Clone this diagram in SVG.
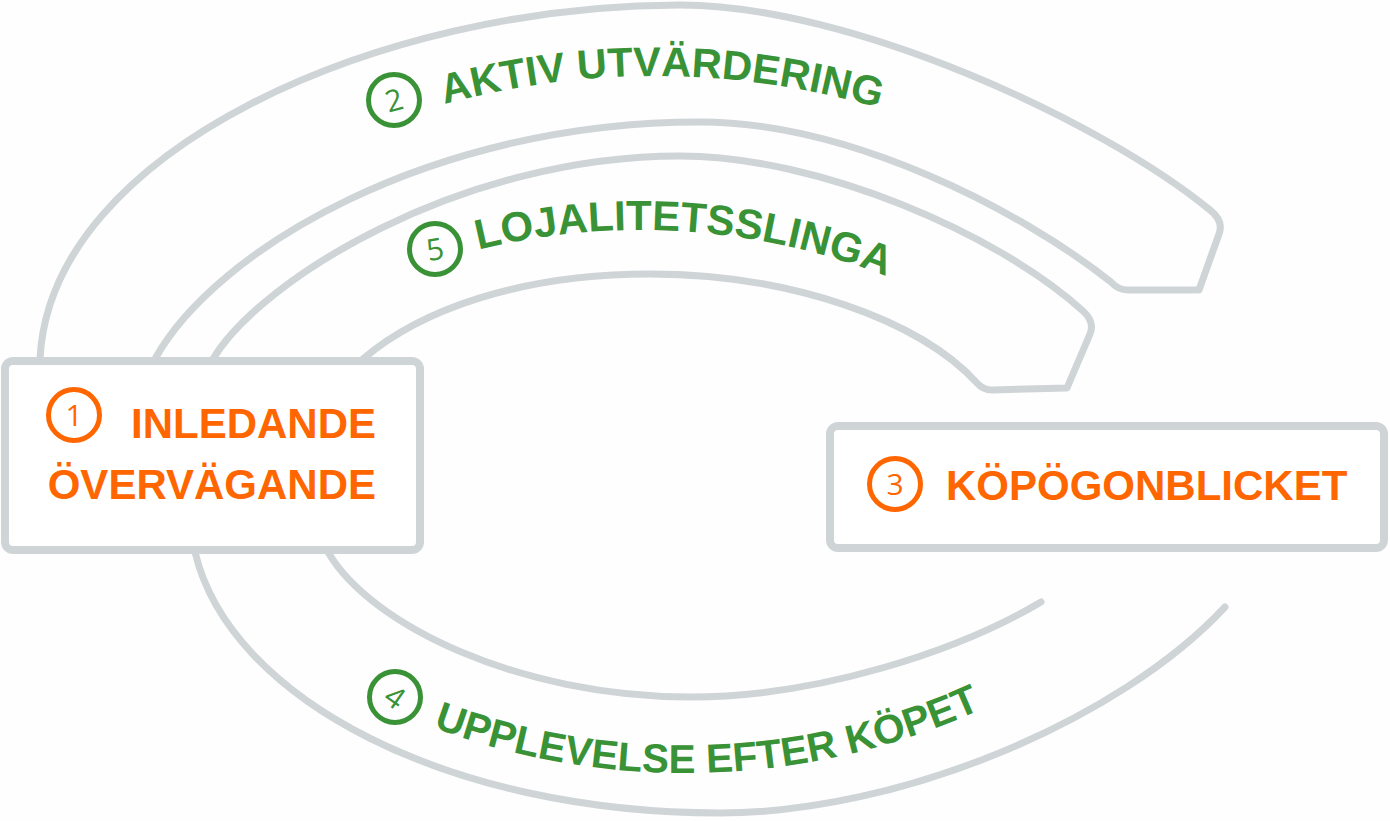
<svg xmlns="http://www.w3.org/2000/svg" width="1390" height="821" viewBox="0 0 1390 821">
<defs>
<style>
.arc{fill:none;stroke:#cfd4d7;stroke-width:7;stroke-linejoin:round;stroke-linecap:round}
.box{fill:#ffffff;stroke:#cfd4d7;stroke-width:8}
.ring-o{fill:none;stroke:#ff6600;stroke-width:5}
.ring-g{fill:none;stroke:#3a9236;stroke-width:5}
.lbl{font-family:"Liberation Sans",Arial,sans-serif;font-weight:700;font-size:42px}
.org{fill:#ff6600}
.grn{fill:#3a9236}
.num{font-family:"Open Sans","Liberation Sans",sans-serif;font-weight:400;font-size:30px;text-anchor:middle}
</style>
<path id="pA" d="M 255,183.2 A 800 800 0 0 1 1055,183.2"/>
<path id="pB" d="M 240,360.1 A 680 680 0 0 1 1040,360.1"/>
<path id="pC" d="M 285,651.7 A 720 720 0 0 0 1085,651.7"/>
</defs>
<rect x="0" y="0" width="1390" height="821" fill="#fefefe"/>
<g id="connectors">
<path id="band-aktiv" class="arc" d="M 40,359 C 50,150 380,5 680,5 C 850,5 1100,120 1210,210 Q 1224,221 1219,234 L 1199,290 L 1128,290 Q 1118,290 1111,282 C 1020,210 850,122 700,122 C 430,122 215,250 155,359"/>
<path id="band-lojal" class="arc" d="M 213,359 C 260,280 460,156 680,156 C 820,156 1000,235 1083,311 Q 1095,322 1090,334 L 1067,388 L 992,390 Q 983,390 977,383 C 920,320 790,274 650,274 C 520,274 420,310 363,359"/>
<path id="arc-efter-outer" class="arc" d="M 195,552 C 230,700 450,813 720,813 C 900,813 1120,720 1225,607"/>
<path id="arc-efter-inner" class="arc" d="M 328,552 C 370,625 520,697 690,697 C 820,697 960,650 1041,602"/>
</g>
<g id="node-1">
<rect class="box" x="5" y="361" width="415" height="189" rx="8"/>
<circle class="ring-o" cx="74" cy="415" r="25.5"/>
<text class="num org" x="74" y="426">1</text>
<text class="lbl org" x="376" y="438" text-anchor="end">INLEDANDE</text>
<text class="lbl org" x="376" y="499" text-anchor="end">ÖVERVÄGANDE</text>
</g>
<g id="node-3">
<rect class="box" x="830" y="426" width="554" height="122" rx="8"/>
<circle class="ring-o" cx="895" cy="484" r="25.5"/>
<text class="num org" x="895" y="495">3</text>
<text class="lbl org" x="946" y="500">KÖPÖGONBLICKET</text>
</g>
<g id="node-2">
<circle class="ring-g" cx="394" cy="100" r="25.5"/>
<text class="num grn" x="394" y="111" transform="rotate(-15 394 100)">2</text>
<text class="lbl grn" text-anchor="middle" style="font-size:41.5px"><textPath href="#pA" startOffset="426">AKTIV UTVÄRDERING</textPath></text>
</g>
<g id="node-5">
<circle class="ring-g" cx="435" cy="249" r="25.5"/>
<text class="num grn" x="435" y="260" transform="rotate(-10 435 249)">5</text>
<text class="lbl grn" text-anchor="middle"><textPath href="#pB" startOffset="472">LOJALITETSSLINGA</textPath></text>
</g>
<g id="node-4">
<circle class="ring-g" cx="395" cy="697" r="25.5"/>
<text class="num grn" x="395" y="708" transform="rotate(35 395 697)">4</text>
<text class="lbl grn" text-anchor="middle" style="font-size:40.5px"><textPath href="#pC" startOffset="448">UPPLEVELSE EFTER KÖPET</textPath></text>
</g>
</svg>
